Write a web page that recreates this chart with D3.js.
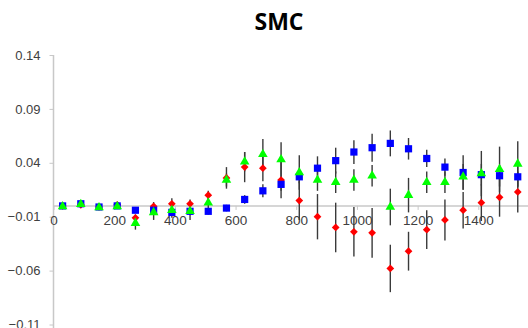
<!DOCTYPE html>
<html>
<head>
<meta charset="utf-8">
<script src="https://cdn.jsdelivr.net/npm/d3@7"></script>
<style>
  html, body { margin: 0; padding: 0; background: #fff; }
  svg { display: block; }
</style>
</head>
<body>
<svg id="chart" width="528" height="328"></svg>
<script>
// Sample positions along the horizontal axis
const positions = [30, 90, 150, 210, 270, 330, 390, 450, 510, 570, 630, 690, 750,
                   810, 870, 930, 990, 1050, 1110, 1170, 1230, 1290, 1350, 1410, 1470, 1530];

// Series values (red diamonds, blue squares, green triangles)
const redValues = [0.000, 0.001, -0.001, 0.001, -0.011, -0.0004, 0.002, 0.002, 0.010, 0.026,
                   0.036, 0.035, 0.024, 0.005, -0.010, -0.020, -0.024, -0.025, -0.058, -0.042,
                   -0.022, -0.013, -0.004, 0.003, 0.008, 0.013];
const blueValues = [0.000, 0.002, -0.001, 0.000, -0.004, -0.004, -0.006, -0.005, -0.005, -0.002,
                    0.006, 0.014, 0.020, 0.027, 0.035, 0.042, 0.050, 0.054, 0.058, 0.053,
                    0.044, 0.036, 0.031, 0.029, 0.028, 0.027];
const greenValues = [-0.0005, 0.0015, -0.0015, -0.0005, -0.016, -0.006, -0.004, -0.005, 0.003, 0.024,
                     0.041, 0.048, 0.043, 0.031, 0.024, 0.022, 0.024, 0.028, -0.001, 0.010,
                     0.022, 0.022, 0.027, 0.030, 0.034, 0.039];

// Error bar half-lengths for each series
const redErrors = [0.001, 0.001, 0.001, 0.002, 0.003, 0.004, 0.005, 0.004, 0.004, 0.010,
                   0.014, 0.012, 0.017, 0.018, 0.021, 0.023, 0.023, 0.023, 0.022, 0.018,
                   0.018, 0.019, 0.017, 0.017, 0.018, 0.019];
const blueErrors = [0.001, 0.001, 0.001, 0.001, 0.002, 0.002, 0.002, 0.002, 0.003, 0.003,
                    0.004, 0.006, 0.006, 0.006, 0.011, 0.012, 0.011, 0.013, 0.012, 0.010,
                    0.008, 0.008, 0.016, 0.010, 0.010, 0.010];
const greenErrors = [0.001, 0.001, 0.001, 0.002, 0.006, 0.007, 0.007, 0.008, 0.006, 0.006,
                     0.009, 0.014, 0.016, 0.016, 0.010, 0.010, 0.010, 0.010, 0.017, 0.016,
                     0.010, 0.010, 0.012, 0.021, 0.021, 0.021];

// Axis ticks
const xTicks = [0, 200, 400, 600, 800, 1000, 1200, 1400];
const yTicks = [0.14, 0.09, 0.04, -0.01, -0.06, -0.11];

const titleText = "SMC";

const svg = d3.select("#chart");

const x = d3.scaleLinear().domain([0, 1600]).range([53.5, 539]);
const y = d3.scaleLinear().domain([-0.11, 0.14]).range([324.5, 55]);

const axisColor = "#c8c8c8";
const labelColor = "#404040";
const font = "'Liberation Sans', Arial, sans-serif";

// Title
svg.append("text")
  .attr("x", 279).attr("y", 30)
  .attr("text-anchor", "middle")
  .attr("font-family", "'Open Sans', sans-serif")
  .attr("font-weight", "bold")
  .attr("font-size", 23)
  .attr("fill", "#000")
  .text(titleText);

// Vertical axis
const yAxis = d3.axisLeft(y)
  .tickValues(yTicks)
  .tickSize(4)
  .tickPadding(9)
  .tickFormat(d3.format(".2f"));
const gy = svg.append("g")
  .attr("transform", `translate(${x(0)},0)`)
  .call(yAxis);
gy.select(".domain").attr("stroke", axisColor).attr("stroke-width", 1.5)
  .attr("d", `M0,${y(0.14)}V328`);
gy.selectAll(".tick line").attr("stroke", axisColor).attr("stroke-width", 1);
gy.selectAll(".tick text")
  .attr("fill", labelColor)
  .attr("font-family", font)
  .attr("font-size", 13);

// Horizontal axis through zero
const xAxis = d3.axisBottom(x)
  .tickValues(xTicks)
  .tickSize(4)
  .tickPadding(6)
  .tickFormat(d3.format("d"));
const gx = svg.append("g")
  .attr("transform", `translate(0,${y(0)})`)
  .call(xAxis);
gx.select(".domain").attr("stroke", axisColor).attr("stroke-width", 1.5)
  .attr("d", `M${x(0)},0H528`);
gx.selectAll(".tick line").attr("stroke", axisColor).attr("stroke-width", 1);
gx.selectAll(".tick text")
  .attr("fill", labelColor)
  .attr("font-family", font)
  .attr("font-size", 13.5);

// Series definitions; the diamond is a square turned 45 degrees
const series = [
  { values: redValues, errors: redErrors, color: "#ff0000", symbol: d3.symbolSquare, size: 30, rotate: 45 },
  { values: blueValues, errors: blueErrors, color: "#0000ff", symbol: d3.symbolSquare, size: 52, rotate: 0 },
  { values: greenValues, errors: greenErrors, color: "#00ff00", symbol: d3.symbolTriangle, size: 40, rotate: 0 }
];

// Error bars beneath all markers
const bars = svg.append("g").attr("class", "error-bars");
series.forEach(s => {
  bars.selectAll(null)
    .data(positions.map((p, i) => ({ p, v: s.values[i], e: s.errors[i] })))
    .join("line")
    .attr("x1", d => x(d.p)).attr("x2", d => x(d.p))
    .attr("y1", d => y(d.v + d.e)).attr("y2", d => y(d.v - d.e))
    .attr("stroke", "#3a3a3a")
    .attr("stroke-width", 1.4);
});

// Markers
series.forEach(s => {
  svg.append("g")
    .selectAll("path")
    .data(positions.map((p, i) => ({ p, v: s.values[i] })))
    .join("path")
    .attr("transform", d => `translate(${x(d.p)},${y(d.v)}) rotate(${s.rotate})`)
    .attr("d", d3.symbol().type(s.symbol).size(s.size))
    .attr("fill", s.color);
});
</script>
</body>
</html>
